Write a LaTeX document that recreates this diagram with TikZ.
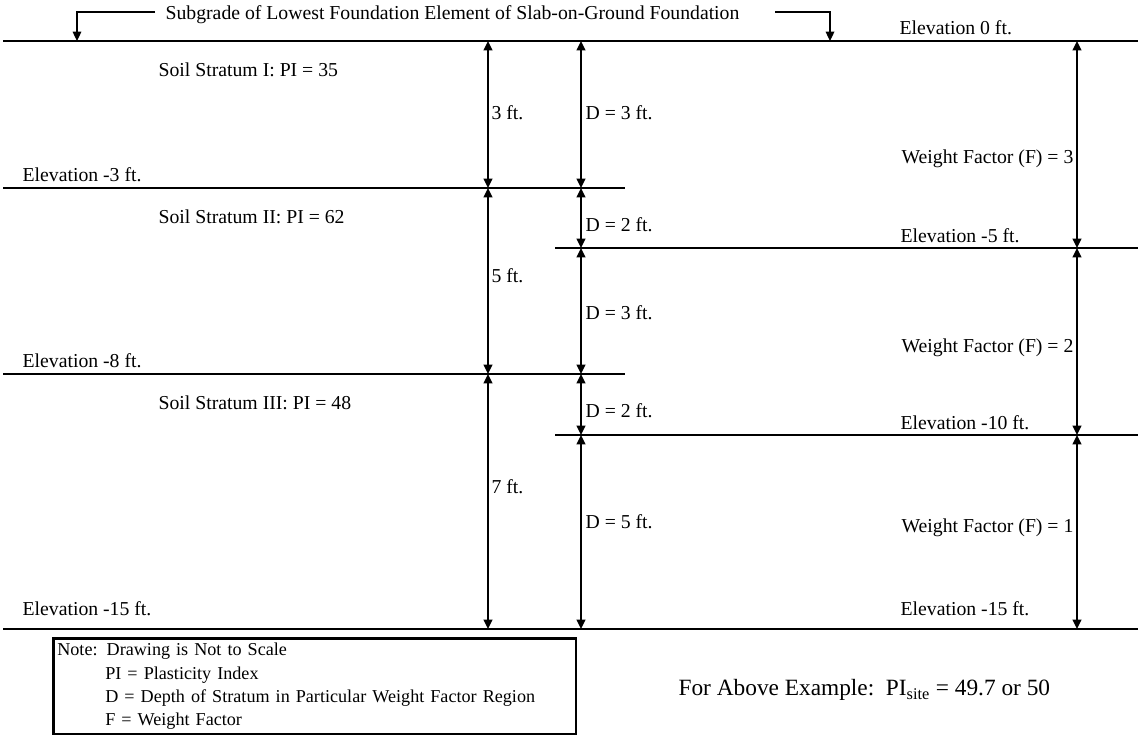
\documentclass[tikz,border=0pt]{standalone}
\usepackage{fontspec}
\setmainfont{Liberation Serif}
\usetikzlibrary{arrows.meta, positioning}
\tikzset{
    level/.style={line width=0.9pt},
    dim/.style={line width=1.3pt, {Triangle[length=7pt,width=6.5pt]}-{Triangle[length=7pt,width=6.5pt]}},
    pointer/.style={line width=0.9pt, -{Triangle[length=7pt,width=6.5pt]}},
    lbl/.style={anchor=west, inner sep=1pt, font=\fontsize{14.8}{17}\selectfont},
    rlbl/.style={lbl, anchor=east},
    notebox/.style={draw, line width=2pt, anchor=north west, align=left, text width=386pt, minimum height=72pt, inner xsep=3pt, inner ysep=2.5pt, font=\fontsize{13.6}{17.4}\selectfont}
}

\begin{document}
\begin{tikzpicture}[x=0.75pt, y=-0.75pt]
    \useasboundingbox (0,0) rectangle (1142,735);

    \coordinate (L0) at (3,41);    \coordinate (R0) at (1138,41);
    \coordinate (L3) at (3,188);   \coordinate (M3) at (625,188);
    \coordinate (M5) at (555,248); \coordinate (R5) at (1138,248);
    \coordinate (L8) at (3,374);   \coordinate (M8) at (625,374);
    \coordinate (M10) at (555,435); \coordinate (R10) at (1138,435);
    \coordinate (L15) at (3,629);  \coordinate (R15) at (1138,629);

    \coordinate (a0) at (488,41);  \coordinate (a3) at (488,188);
    \coordinate (a8) at (488,374); \coordinate (a15) at (488,629);
    \coordinate (d0) at (581,41);  \coordinate (d3) at (581,188);
    \coordinate (d5) at (581,248); \coordinate (d8) at (581,374);
    \coordinate (d10) at (581,435); \coordinate (d15) at (581,629);
    \coordinate (w0) at (1077,41); \coordinate (w5) at (1077,248);
    \coordinate (w10) at (1077,435); \coordinate (w15) at (1077,629);

    \draw [level] (L0) -- (R0);
    \draw [level] (L3) -- (M3);
    \draw [level] (M5) -- (R5);
    \draw [level] (L8) -- (M8);
    \draw [level] (M10) -- (R10);
    \draw [level] (L15) -- (R15);

    \node (subgrade) [lbl] at (164,15) {Subgrade of Lowest Foundation Element of Slab-on-Ground Foundation};
    \coordinate (sgL) at (155,12); \coordinate (sgLend) at (77,41);
    \coordinate (sgR) at (775,12); \coordinate (sgRend) at (830,41);
    \draw [pointer] (sgL) -| (sgLend);
    \draw [pointer] (sgR) -| (sgRend);

    \node (el0) [lbl] at (898,28) {Elevation 0 ft.};
    \node (el3) [lbl] at (21,175) {Elevation -3 ft.};
    \node (el5) [lbl] at (899,236) {Elevation -5 ft.};
    \node (el8) [lbl] at (21,361) {Elevation -8 ft.};
    \node (el10) [lbl] at (899,423) {Elevation -10 ft.};
    \node (el15l) [lbl] at (21,609) {Elevation -15 ft.};
    \node (el15r) [lbl] at (899,609) {Elevation -15 ft.};

    \node (s1) [lbl] at (157,70) {Soil Stratum I: PI = 35};
    \node (s2) [lbl] at (157,217) {Soil Stratum II: PI = 62};
    \node (s3) [lbl] at (157,403) {Soil Stratum III: PI = 48};

    \draw [dim] (a0) -- (a3);
    \draw [dim] (a3) -- (a8);
    \draw [dim] (a8) -- (a15);
    \node (t3) [lbl] at (490,113) {3 ft.};
    \node (t5) [lbl] at (490,276) {5 ft.};
    \node (t7) [lbl] at (490,487) {7 ft.};

    \draw [dim] (d0) -- (d3);
    \draw [dim] (d3) -- (d5);
    \draw [dim] (d5) -- (d8);
    \draw [dim] (d8) -- (d10);
    \draw [dim] (d10) -- (d15);
    \node (dd1) [lbl] at (584,113) {D = 3 ft.};
    \node (dd2) [lbl] at (584,225) {D = 2 ft.};
    \node (dd3) [lbl] at (584,313) {D = 3 ft.};
    \node (dd4) [lbl] at (584,411) {D = 2 ft.};
    \node (dd5) [lbl] at (584,522) {D = 5 ft.};

    \draw [dim] (w0) -- (w5);
    \draw [dim] (w5) -- (w10);
    \draw [dim] (w10) -- (w15);
    \node (f3) [rlbl] at (1075,159) {Weight Factor (F) = 3};
    \node (f2) [rlbl] at (1075,348) {Weight Factor (F) = 2};
    \node (f1) [rlbl] at (1075,528) {Weight Factor (F) = 1};

    \node (note) [notebox] at (52,637) {Note: Drawing is Not to Scale\\
        \hspace*{36pt}PI = Plasticity Index\\
        \hspace*{36pt}D = Depth of Stratum in Particular Weight Factor Region\\
        \hspace*{36pt}F = Weight Factor};

    \node (example) [lbl, font=\fontsize{17.5}{20}\selectfont] at (677,690) {For Above Example:\ \ PI\textsubscript{site} = 49.7 or 50};
\end{tikzpicture}
\end{document}
